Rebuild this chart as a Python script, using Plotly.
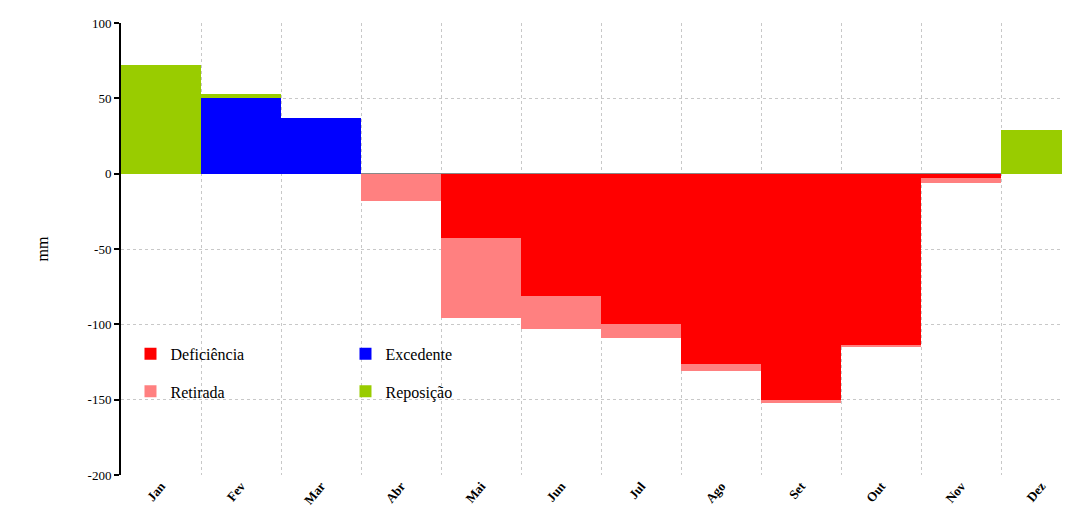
import plotly.graph_objects as go

months = ["Jan","Fev","Mar","Abr","Mai","Jun","Jul","Ago","Set","Out","Nov","Dez"]
deficiencia = [0,0,0,0,-43,-81,-100,-126,-150,-114,-3,0]
retirada = [0,0,0,-18,-53,-22,-9,-5,-2,-1,-3,0]
excedente = [0,50,37,0,0,0,0,0,0,0,0,0]
reposicao = [72,3,0,0,0,0,0,0,0,0,0,29]
ytick_vals = [100, 50, 0, -50, -100, -150, -200]
ytick_text = ["100", "50", "0", "-50", "-100", "-150", "-200"]

x = list(range(12))
fig = go.Figure()
fig.add_bar(x=x, y=deficiencia, name="Deficiência", marker_color="#FF0000", marker_line_width=0, legend="legend")
fig.add_bar(x=x, y=excedente, name="Excedente", marker_color="#0000FF", marker_line_width=0, legend="legend")
fig.add_bar(x=x, y=retirada, name="Retirada", marker_color="#FF8080", marker_line_width=0, legend="legend2")
fig.add_bar(x=x, y=reposicao, name="Reposição", marker_color="#99CC00", marker_line_width=0, legend="legend2")

lfont = dict(size=16, family="Liberation Serif", color="black")
fig.update_layout(
    width=1070, height=532, barmode="relative", bargap=0,
    paper_bgcolor="white", plot_bgcolor="white",
    font=dict(family="Liberation Serif", size=13, color="black"),
    margin=dict(l=113, r=8, t=15, b=65, autoexpand=False),
    legend=dict(orientation="h", x=0.01, y=0.268, xanchor="left", yanchor="middle",
                entrywidth=170, bgcolor="rgba(0,0,0,0)", font=lfont, itemwidth=30, tracegroupgap=0),
    legend2=dict(orientation="h", x=0.01, y=0.185, xanchor="left", yanchor="middle",
                 entrywidth=170, bgcolor="rgba(0,0,0,0)", font=lfont, itemwidth=30, tracegroupgap=0),
    xaxis=dict(range=[-0.5, 11.36], tickvals=x, ticktext=[f"<b>{m}</b>" for m in months], tickangle=-50,
               showgrid=False, showline=False, ticks="", automargin=False,
               minor=dict(tickvals=[i+0.5 for i in range(-1, 12)], showgrid=True,
                          gridcolor="#c8c8c8", griddash="dot", gridwidth=1)),
    yaxis=dict(range=[-200, 100], tickvals=ytick_vals, ticktext=ytick_text,
               showline=True, linecolor="black", linewidth=2, automargin=False,
               ticks="outside", tickcolor="black", ticklen=5, tickwidth=2,
               gridcolor="#c8c8c8", griddash="dot", zeroline=True, zerolinecolor="#888",
               zerolinewidth=1, title=dict(text="mm", standoff=35, font=dict(size=16))),
)
fig.write_html("out.html")
